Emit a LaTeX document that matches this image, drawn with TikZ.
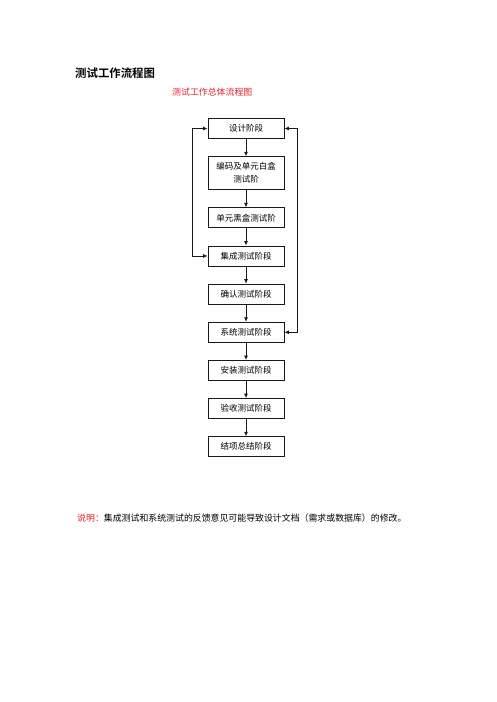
\documentclass[tikz,border=0pt]{standalone}
\usepackage{fontspec}
\usepackage{tikz}
\usetikzlibrary{arrows.meta,positioning,calc}
\newfontfamily\cjk[BoldFont={Noto Sans CJK SC Bold}]{Noto Sans CJK SC}
\definecolor{noteRed}{RGB}{230,35,45}
\definecolor{lineGray}{RGB}{25,25,25}

\begin{document}
\begin{tikzpicture}[
    box/.style={draw=lineGray, line width=0.8pt, minimum height=20pt, minimum width=76pt, align=center, inner sep=2pt, font=\cjk\fontsize{8.5}{13}\selectfont},
    arr/.style={-{Latex[length=4.5pt,width=4pt]}, line width=0.8pt, draw=lineGray},
    fb/.style={{Latex[length=4.5pt,width=4pt]}-{Latex[length=4.5pt,width=4pt]}, line width=0.8pt, draw=lineGray},
    node distance=17.35pt
]
\useasboundingbox (0,0) rectangle (496pt,-702pt);

% headings
\node[anchor=west, inner sep=0pt, font=\cjk\bfseries\fontsize{11.4}{13}\selectfont] (title) at (75pt,-73pt) {测试工作流程图};
\node[anchor=west, inner sep=0pt, text=noteRed, font=\cjk\fontsize{8.9}{11}\selectfont] (subtitle) at (172pt,-92pt) {测试工作总体流程图};

% stages
\node[box] (design) at (246pt,-128.5pt) {设计阶段};
\node[box, minimum height=33pt, below=of design] (code) {编码及单元白盒\\测试阶};
\node[box, below=of code] (black) {单元黑盒测试阶};
\node[box, below=of black] (integ) {集成测试阶段};
\node[box, below=of integ] (confirm) {确认测试阶段};
\node[box, below=of confirm] (system) {系统测试阶段};
\node[box, below=of system] (install) {安装测试阶段};
\node[box, below=of install] (accept) {验收测试阶段};
\node[box, below=of accept] (close) {结项总结阶段};

\draw[arr] (design) -- (code);
\draw[arr] (code) -- (black);
\draw[arr] (black) -- (integ);
\draw[arr] (integ) -- (confirm);
\draw[arr] (confirm) -- (system);
\draw[arr] (system) -- (install);
\draw[arr] (install) -- (accept);
\draw[arr] (accept) -- (close);

% feedback loops
\draw[fb] (integ.west) -- ++(-15pt,0) |- (design.west);
\draw[fb] (system.east) -- ++(13pt,0) |- (design.east);

% note
\node[anchor=west, inner sep=0pt, font=\cjk\fontsize{8.9}{11}\selectfont] (note) at (77pt,-518pt) {\textcolor{noteRed}{说明：}集成测试和系统测试的反馈意见可能导致设计文档（需求或数据库）的修改。};
\end{tikzpicture}
\end{document}
